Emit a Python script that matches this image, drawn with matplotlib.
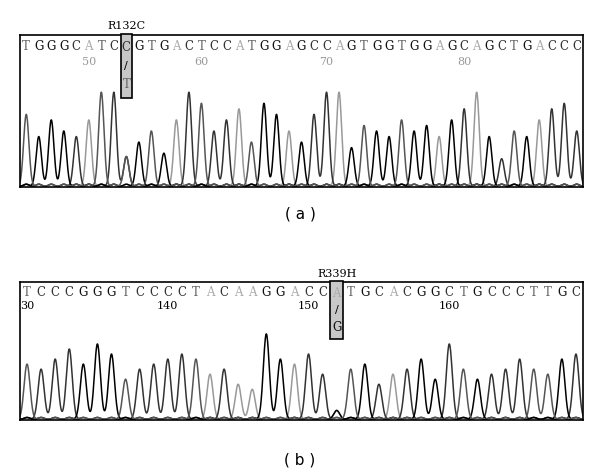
import numpy as np
import matplotlib.pyplot as plt

seq_a = list("TGGGCATC") + ["C/T"] + list("GTGACTCCATGGAGCCAGTGGTGGAGCAGCTGACCC")
heights_a = [0.65, 0.45, 0.6, 0.5, 0.45, 0.6, 0.85, 0.85, 0.45, 0.4, 0.5, 0.3, 0.6, 0.85,
             0.75, 0.5, 0.6, 0.7, 0.4, 0.75, 0.65, 0.5, 0.4, 0.65, 0.85, 0.85, 0.35,
             0.55, 0.5, 0.45, 0.6, 0.5, 0.55, 0.45, 0.6, 0.7, 0.85, 0.45, 0.25, 0.5,
             0.45, 0.6, 0.7, 0.75, 0.5]
ticks_a = {5: "50", 14: "60", 24: "70", 35: "80"}
mut_a = 8

seq_b = list("TCCCGGGTCCCCTACAAGGACC") + ["A/G"] + list("TGCACGGCTGCCCTTGC")
heights_b = [0.55, 0.5, 0.6, 0.7, 0.55, 0.75, 0.65, 0.4, 0.5, 0.55, 0.6, 0.65, 0.6, 0.45,
             0.5, 0.35, 0.3, 0.85, 0.6, 0.55, 0.65, 0.45, 0.15, 0.5, 0.55, 0.35, 0.45,
             0.5, 0.6, 0.4, 0.75, 0.5, 0.4, 0.45, 0.5, 0.6, 0.5, 0.45, 0.6, 0.65]
ticks_b = {0: "30", 10: "140", 20: "150", 30: "160"}
mut_b = 22

base_col = {"G": "#000000", "C": "#333333", "T": "#555555", "A": "#999999"}
text_col = {"G": "#111111", "C": "#333333", "T": "#666666", "A": "#aaaaaa"}


def panel(fig, rect, seq, heights, ticks, mut, name):
    ax = fig.add_axes(rect)
    n = len(seq)
    x = np.linspace(-0.5, n - 0.5, 2000)
    for b in "ACGT":
        y = np.full_like(x, 0.005)
        for i, (s, h) in enumerate(zip(seq, heights)):
            if b in s:
                hh = h if len(s) == 1 else h * 0.6
                y += hh * np.exp(-((x - i) / 0.3) ** 2)
            else:
                y += 0.02 * np.exp(-((x - i) / 0.3) ** 2)
        ax.plot(x, y, color=base_col[b], lw=1.1)
    for i, s in enumerate(seq):
        if len(s) == 1:
            ax.text(i, 1.27, s, ha="center", va="center", fontsize=8.5,
                    family="DejaVu Serif", color=text_col[s])
    for i, t in ticks.items():
        ax.text(i, 1.13, t, ha="center", va="center", fontsize=8,
                family="DejaVu Serif", color="#999999" if name == "a" else "black")
    ax.add_patch(plt.Rectangle((mut - 0.45, 0.8), 0.9, 0.58, fc="#c8c8c8",
                               ec="black", lw=1.2, clip_on=False, zorder=5))
    a, b = seq[mut].split("/")
    ax.text(mut, 1.26, a, ha="center", va="center", fontsize=8.5,
            family="DejaVu Serif", color=text_col[a], zorder=6)
    ax.text(mut, 1.09, "/", ha="center", va="center", fontsize=8, zorder=6)
    ax.text(mut, 0.92, b, ha="center", va="center", fontsize=8.5,
            family="DejaVu Serif", color=text_col[b], zorder=6)
    ax.text(mut, 1.45, "R132C" if name == "a" else "R339H", ha="center",
            va="center", fontsize=8, family="DejaVu Serif")
    ax.set_xlim(-0.5, n - 0.5)
    ax.set_ylim(0, 1.37)
    ax.set_xticks([])
    ax.set_yticks([])
    for s in ax.spines.values():
        s.set_linewidth(1.2)
    return ax


fig = plt.figure(figsize=(6, 4.74), dpi=100)
panel(fig, [20 / 600, 1 - 187 / 474, 563 / 600, 152 / 474], seq_a, heights_a, ticks_a, mut_a, "a")
panel(fig, [20 / 600, 1 - 420 / 474, 563 / 600, 138 / 474], seq_b, heights_b, ticks_b, mut_b, "b")
fig.text(0.5, 1 - 214 / 474, "( a )", ha="center", va="center", fontsize=11)
fig.text(0.5, 1 - 460 / 474, "( b )", ha="center", va="center", fontsize=11)
fig.savefig("out.png", dpi=100)
